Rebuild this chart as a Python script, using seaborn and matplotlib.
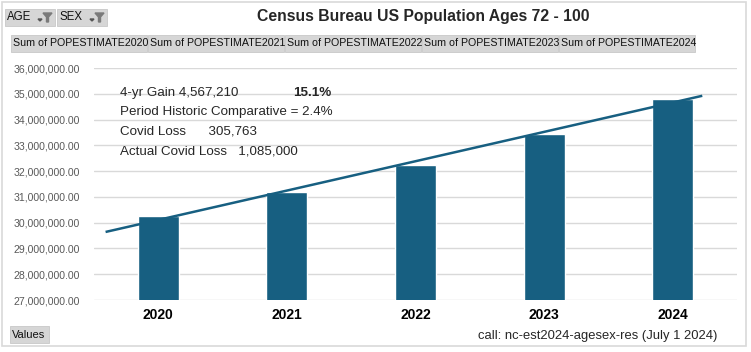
import matplotlib
matplotlib.use("Agg")
import matplotlib.pyplot as plt
import matplotlib.patches as mpatches
import seaborn as sns
import numpy as np
import pandas as pd

# data
years = ["2020", "2021", "2022", "2023", "2024"]
population = [30240000, 31190000, 32240000, 33440000, 34807210]
header_labels = ["Sum of POPESTIMATE2020", "Sum of POPESTIMATE2021", "Sum of POPESTIMATE2022",
                 "Sum of POPESTIMATE2023", "Sum of POPESTIMATE2024"]
filter_labels = ["AGE", "SEX"]
note_lines = ["4-yr Gain 4,567,210", "Period Historic Comparative = 2.4%",
              "Covid Loss      305,763", "Actual Covid Loss   1,085,000"]

bar_color = "#175f81"
W, H = 751, 352

sns.set_style("white")
plt.rcParams["font.family"] = ["Liberation Sans", "DejaVu Sans"]

df = pd.DataFrame({"year": years, "pop": population})

fig = plt.figure(figsize=(W / 100, H / 100), dpi=100)
ax = fig.add_axes([94 / W, 1 - 300 / H, (737 - 94) / W, (300 - 68) / H])

sns.barplot(data=df, x="year", y="pop", color=bar_color, saturation=1, width=0.32, ax=ax)

# linear trendline, extended a bit both sides like Excel
xs = np.arange(len(years))
slope, icpt = np.polyfit(xs, population, 1)
xt = np.array([-0.41, 4.23])
ax.plot(xt, slope * xt + icpt, color=bar_color, lw=1.8, solid_capstyle="butt")

ax.set_ylim(27e6, 36e6)
ax.set_xlim(-0.5, 4.5)
yt = np.arange(27e6, 36e6 + 1, 1e6)
ax.set_yticks(yt)
ax.set_yticklabels([f"{v:,.2f}" for v in yt], color="#595959", fontsize=7.6)
ax.tick_params(axis="y", length=0, pad=10)
ax.tick_params(axis="x", length=0, pad=6)
for lbl in ax.get_xticklabels():
    lbl.set_fontweight("bold")
    lbl.set_fontsize(10)
    lbl.set_color("black")
ax.set_xlabel("")
ax.set_ylabel("")
ax.grid(axis="y", color="#d9d9d9", lw=1)
ax.set_axisbelow(True)
for s in ax.spines.values():
    s.set_visible(False)

# outer frame
fig.patches.append(mpatches.Rectangle((2 / W, 6 / H), (744 / W), (344 / H), transform=fig.transFigure,
                                      fill=False, edgecolor="#d9d9d9", lw=1.2))

# title
fig.text(423 / W, 1 - 17 / H, "Census Bureau US Population Ages 72 - 100", ha="center", va="center",
         fontsize=11.3, fontweight="bold")


def button(x0, y0, w, h, text, fs=7.7):
    fig.patches.append(mpatches.Rectangle((x0 / W, 1 - (y0 + h) / H), w / W, h / H,
                                          transform=fig.transFigure, facecolor="#d6d6d6",
                                          edgecolor="#c8c8c8", lw=0.6))
    fig.text((x0 + 2) / W, 1 - (y0 + h / 2) / H, text, ha="left", va="center", fontsize=fs,
             color="#111111")


# filter buttons with funnel icons
for i, lab in enumerate(filter_labels):
    x0 = 5 + i * 52
    button(x0, 9, 50, 17, lab, fs=8.3)
    fx = x0 + 38
    fig.patches.append(mpatches.Polygon([((fx - 5) / W, 1 - 19 / H), ((fx - 1) / W, 1 - 19 / H),
                                         ((fx - 3) / W, 1 - 21 / H)], closed=True,
                                        transform=fig.transFigure, color="#555555"))
    fig.patches.append(mpatches.Polygon([((fx) / W, 1 - 13 / H), ((fx + 9) / W, 1 - 13 / H),
                                         ((fx + 5.5) / W, 1 - 17 / H), ((fx + 5.5) / W, 1 - 22 / H),
                                         ((fx + 3.5) / W, 1 - 22 / H), ((fx + 3.5) / W, 1 - 17 / H)],
                                        closed=True, transform=fig.transFigure, color="#7a7a7a"))

# field header buttons
for i, lab in enumerate(header_labels):
    button(11 + i * 137, 35, 136, 17, lab)

button(10, 326, 39, 17, "Values", fs=8)

# annotation text block
for i, line in enumerate(note_lines):
    fig.text(120 / W, 1 - (93 + i * 19.5) / H, line, ha="left", va="center", fontsize=9.6)
fig.text(293 / W, 1 - 93 / H, "15.1%", ha="left", va="center", fontsize=9.6, fontweight="bold")

fig.text(717 / W, 1 - 336 / H, "call: nc-est2024-agesex-res (July 1 2024)", ha="right",
         va="center", fontsize=9.4)

fig.savefig("out.png", dpi=100)
